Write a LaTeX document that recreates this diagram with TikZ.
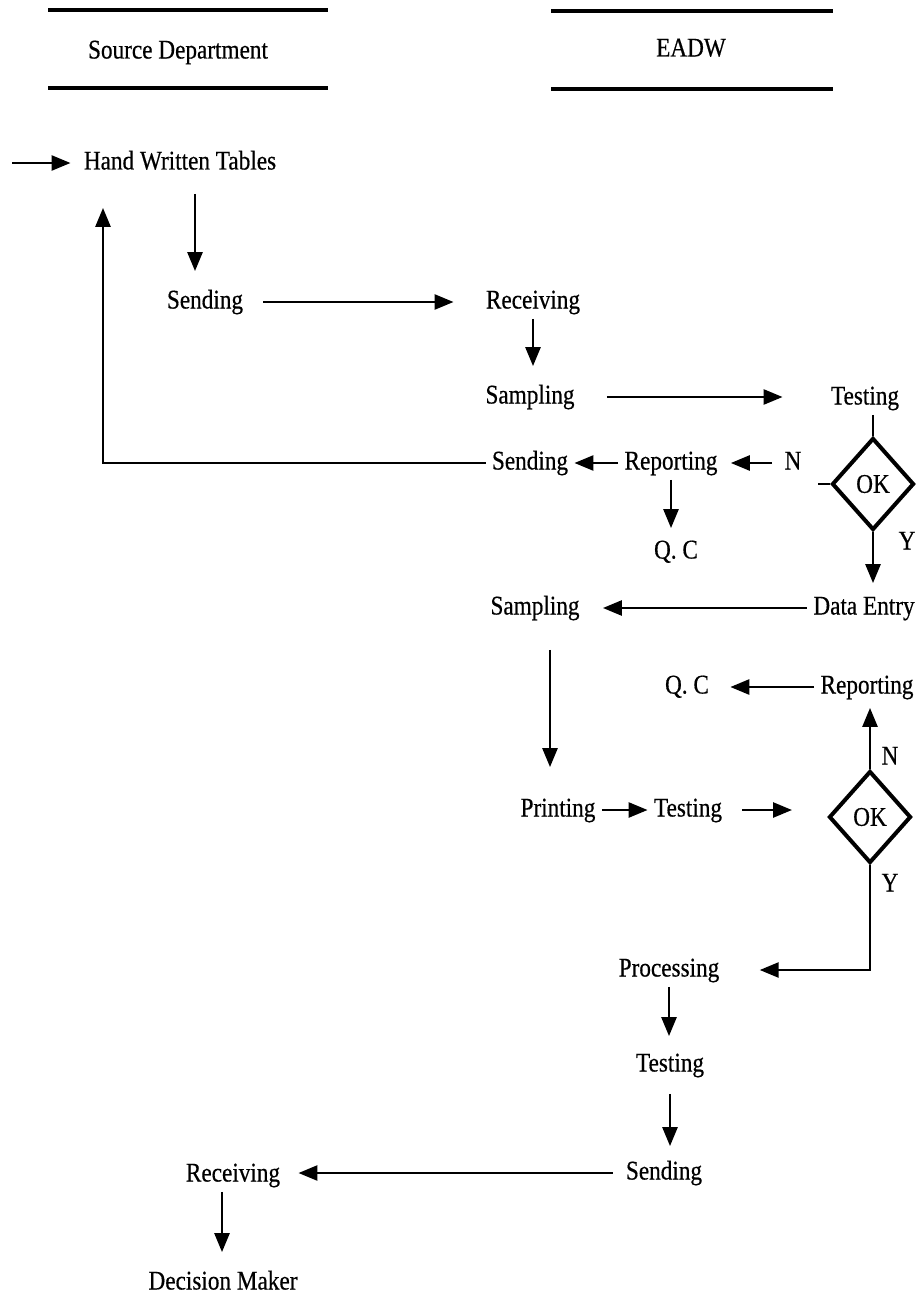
\documentclass[tikz,border=0pt]{standalone}
\usepackage{fontspec}
\setmainfont{Liberation Serif}[FakeStretch=0.86,FakeBold=0.5]
\usepackage{tikz}
\usetikzlibrary{positioning,calc}
\usetikzlibrary{arrows.meta,shapes.geometric}
\tikzset{
  lbl/.style={inner xsep=3pt,inner ysep=2pt,text height=9.5pt,text depth=3pt,
    font=\fontsize{13.5pt}{15pt}\selectfont},
  rule/.style={draw=black,line width=1.7pt},
  conn/.style={draw=black,line width=1.3pt},
  arr/.style={conn,-{Triangle[length=9.5pt,width=7.5pt]}},
}
\tikzset{dia/.style={diamond,draw=black,line width=2pt,minimum width=41pt,minimum height=46pt,inner sep=0pt,font=\fontsize{13.5pt}{15pt}\selectfont}}

\begin{document}
\begin{tikzpicture}[x=0.5pt,y=-0.5pt]
\useasboundingbox (0,0) rectangle (922,1295);
\draw[rule] (48,10)--(328,10);
\draw[rule] (48,88)--(328,88);
\draw[rule] (551,11)--(833,11);
\draw[rule] (551,89)--(833,89);
\node[lbl] (srcdept) at (178,52) {Source Department};
\node[lbl] (eadw) at (691,50) {EADW};
\coordinate (entry) at (12,163);
\node[lbl] (hwt) at (180,163) {Hand Written Tables};
\node[lbl] (send1) at (205,302) {Sending};
\node[lbl] (recv1) at (533,302) {Receiving};
\node[lbl] (samp1) at (530,397) {Sampling};
\node[lbl] (test1) at (865,398) {Testing};
\node[dia] (ok1) at (873,484) {OK};
\node[lbl] (nlab1) at (793,463) {N};
\node[lbl] (ylab1) at (907,543) {Y};
\node[lbl] (rep1) at (671,463) {Reporting};
\node[lbl] (send2) at (530,463) {Sending};
\node[lbl] (qc1) at (676,552) {Q. C};
\node[lbl] (dentry) at (864,608) {Data Entry};
\node[lbl] (samp2) at (535,608) {Sampling};
\node[lbl] (qc2) at (687,687) {Q. C};
\node[lbl] (rep2) at (867,687) {Reporting};
\node[lbl] (print) at (558,810) {Printing};
\node[lbl] (test2) at (688,810) {Testing};
\node[dia] (ok2) at (870,817) {OK};
\node[lbl] (nlab2) at (890,758) {N};
\node[lbl] (ylab2) at (890,885) {Y};
\node[lbl] (proc) at (669,970) {Processing};
\node[lbl] (test3) at (670,1065) {Testing};
\node[lbl] (send3) at (664,1173) {Sending};
\node[lbl] (recv2) at (233,1175) {Receiving};
\node[lbl] (dmaker) at (223,1283) {Decision Maker};
\draw[arr,shorten >=3.5pt] (entry) -- (hwt.west);
\draw[arr,shorten <=7pt,shorten >=7pt] (hwt.south -| 195,0) -- (send1.north -| 195,0);
\draw[arr,shorten <=7pt,shorten >=13pt] (send1.east) -- (recv1.west);
\draw[arr,shorten >=7pt] (recv1.south) -- (recv1.south |- samp1.north);
\draw[arr,shorten <=13pt,shorten >=21pt] (samp1.east) -- (samp1.east -| test1.west);
\draw[conn] (test1.south -| ok1.north) -- (ok1.north);
\draw[conn,shorten >=5pt] (ok1.west) -- (ok1.west -| nlab1.east);
\draw[arr,shorten <=3pt,shorten >=3.5pt] (nlab1.west) -- (rep1.east);
\draw[arr] (rep1.west) -- (send2.east);
\draw[arr,shorten >=14pt] (send2.west) -| (hwt.south -| 103,0);
\draw[arr,shorten >=3.5pt] (rep1.south) -- (rep1.south |- qc1.north);
\draw[arr,shorten >=4pt] (ok1.south) -- (ok1.south |- dentry.north);
\draw[arr,shorten >=8.5pt] (dentry.west) -- (dentry.west -| samp2.east);
\draw[arr,shorten <=12.5pt,shorten >=13pt] (samp2.south -| 550,0) -- (print.north -| 550,0);
\draw[arr] (print.east) -- (test2.west);
\draw[arr,shorten <=7pt,shorten >=17.5pt] (test2.east) -- (test2.east -| ok2.west);
\draw[arr,shorten >=2pt] (ok2.north) -- (ok2.north |- rep2.south);
\draw[arr,shorten >=7.5pt] (rep2.west) -- (qc2.east);
\draw[arr,shorten >=17pt] (ok2.south) |- (proc.east);
\draw[arr,shorten >=6pt] (proc.south) -- (proc.south |- test3.north);
\draw[arr,shorten <=6pt,shorten >=5pt] (test3.south) -- (test3.south |- send3.north);
\draw[arr,shorten <=3.5pt,shorten >=6pt] (send3.west) -- (send3.west -| recv2.east);
\draw[arr,shorten >=7pt] (recv2.south -| 222,0) -- (dmaker.north -| 222,0);
\end{tikzpicture}
\end{document}
